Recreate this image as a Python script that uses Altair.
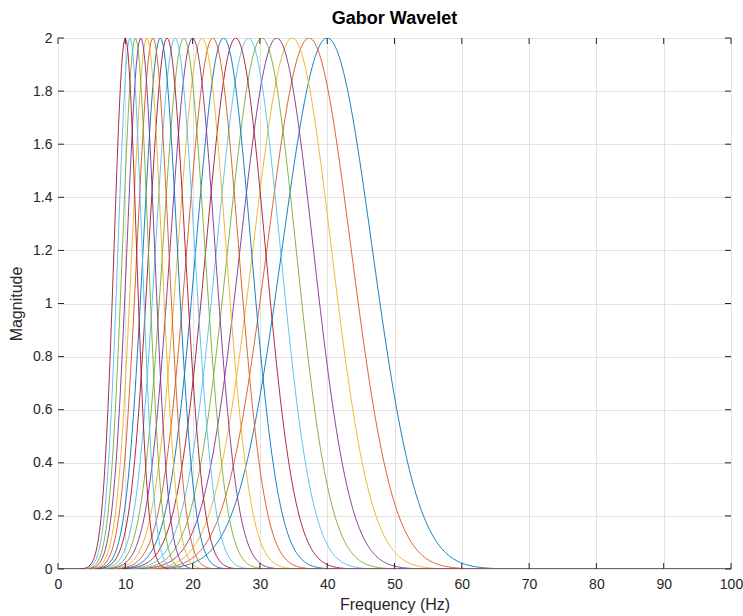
import altair as alt
import numpy as np
import pandas as pd

# Peak (centre) frequencies of the filters, in plotting order
peak_hz = [40.0, 37.3, 34.8, 32.5, 30.3, 28.3, 26.4, 24.6, 23.0, 21.4, 20.0,
           18.7, 17.4, 16.2, 15.2, 14.1, 13.2, 12.3, 11.5, 10.7, 10.0]
peak_magnitude = 2.0
morlet_w0 = 6.0          # Gabor / analytic Morlet centre parameter
freq_grid = np.round(np.arange(0, 100.0001, 0.2), 2)

x_ticks = [0, 10, 20, 30, 40, 50, 60, 70, 80, 90, 100]
y_ticks = [0, 0.2, 0.4, 0.6, 0.8, 1.0, 1.2, 1.4, 1.6, 1.8, 2.0]
matlab_colors = ["#0072BD", "#D95319", "#EDB120", "#7E2F8E", "#77AC30", "#4DBEEE", "#A2142F"]

rows = []
for i, fc in enumerate(peak_hz):
    mag = peak_magnitude * np.exp(-0.5 * (morlet_w0 * freq_grid / fc - morlet_w0) ** 2)
    for f, m in zip(freq_grid, mag):
        rows.append({"f": float(f), "m": round(float(m), 5), "curve": i, "c": i % 7})
df = pd.DataFrame(rows)

W, H = 673, 531
FONT = "Liberation Sans"
AX = "#262626"

xs = alt.Scale(domain=[0, 100], nice=False, zero=False)
ys = alt.Scale(domain=[0, 2], nice=False, zero=False)

x_axis = alt.Axis(
    values=x_ticks, title="Frequency (Hz)", ticks=False, domain=False, labelFlush=False,
    labelPadding=8, titlePadding=5, labelFontSize=14, titleFontSize=16,
    labelFont=FONT, titleFont=FONT, labelColor=AX, titleColor=AX,
    titleFontWeight="normal", gridColor="#e3e3e3", gridWidth=1)
y_axis = alt.Axis(
    values=y_ticks, title="Magnitude", format=".1~f", ticks=False, domain=False,
    labelFlush=False, labelPadding=6, titlePadding=8, labelFontSize=14, titleFontSize=16,
    labelFont=FONT, titleFont=FONT, labelColor=AX, titleColor=AX,
    titleFontWeight="normal", gridColor="#e3e3e3", gridWidth=1)

lines = alt.Chart(df).mark_line(strokeWidth=0.9, clip=True).encode(
    x=alt.X("f:Q", scale=xs, axis=x_axis),
    y=alt.Y("m:Q", scale=ys, axis=y_axis),
    color=alt.Color("c:N", scale=alt.Scale(domain=list(range(7)), range=matlab_colors), legend=None),
    detail="curve:N",
)

xt = pd.DataFrame({"f": x_ticks})
yt = pd.DataFrame({"m": y_ticks})
TL = 6
x_bottom = alt.Chart(xt).mark_rule(color=AX, strokeWidth=1).encode(
    x=alt.X("f:Q", scale=xs, axis=x_axis), y=alt.value(H), y2=alt.value(H - TL))
x_top = alt.Chart(xt).mark_rule(color=AX, strokeWidth=1).encode(
    x=alt.X("f:Q", scale=xs, axis=x_axis), y=alt.value(0), y2=alt.value(TL))
y_left = alt.Chart(yt).mark_rule(color=AX, strokeWidth=1).encode(
    y=alt.Y("m:Q", scale=ys, axis=y_axis), x=alt.value(0), x2=alt.value(TL))
y_right = alt.Chart(yt).mark_rule(color=AX, strokeWidth=1).encode(
    y=alt.Y("m:Q", scale=ys, axis=y_axis), x=alt.value(W), x2=alt.value(W - TL))

chart = alt.layer(lines, x_bottom, x_top, y_left, y_right).properties(
    width=W, height=H,
    title=alt.Title("Gabor Wavelet", fontSize=18, fontWeight="bold", font=FONT,
                    color="#000000", anchor="middle", offset=3),
    autosize="none",
    padding={"left": 58, "top": 38, "right": 12, "bottom": 47},
).configure_view(stroke=AX, strokeWidth=1).configure(background="white")

chart.save("out.html", embed_options={"renderer": "svg", "actions": False})
